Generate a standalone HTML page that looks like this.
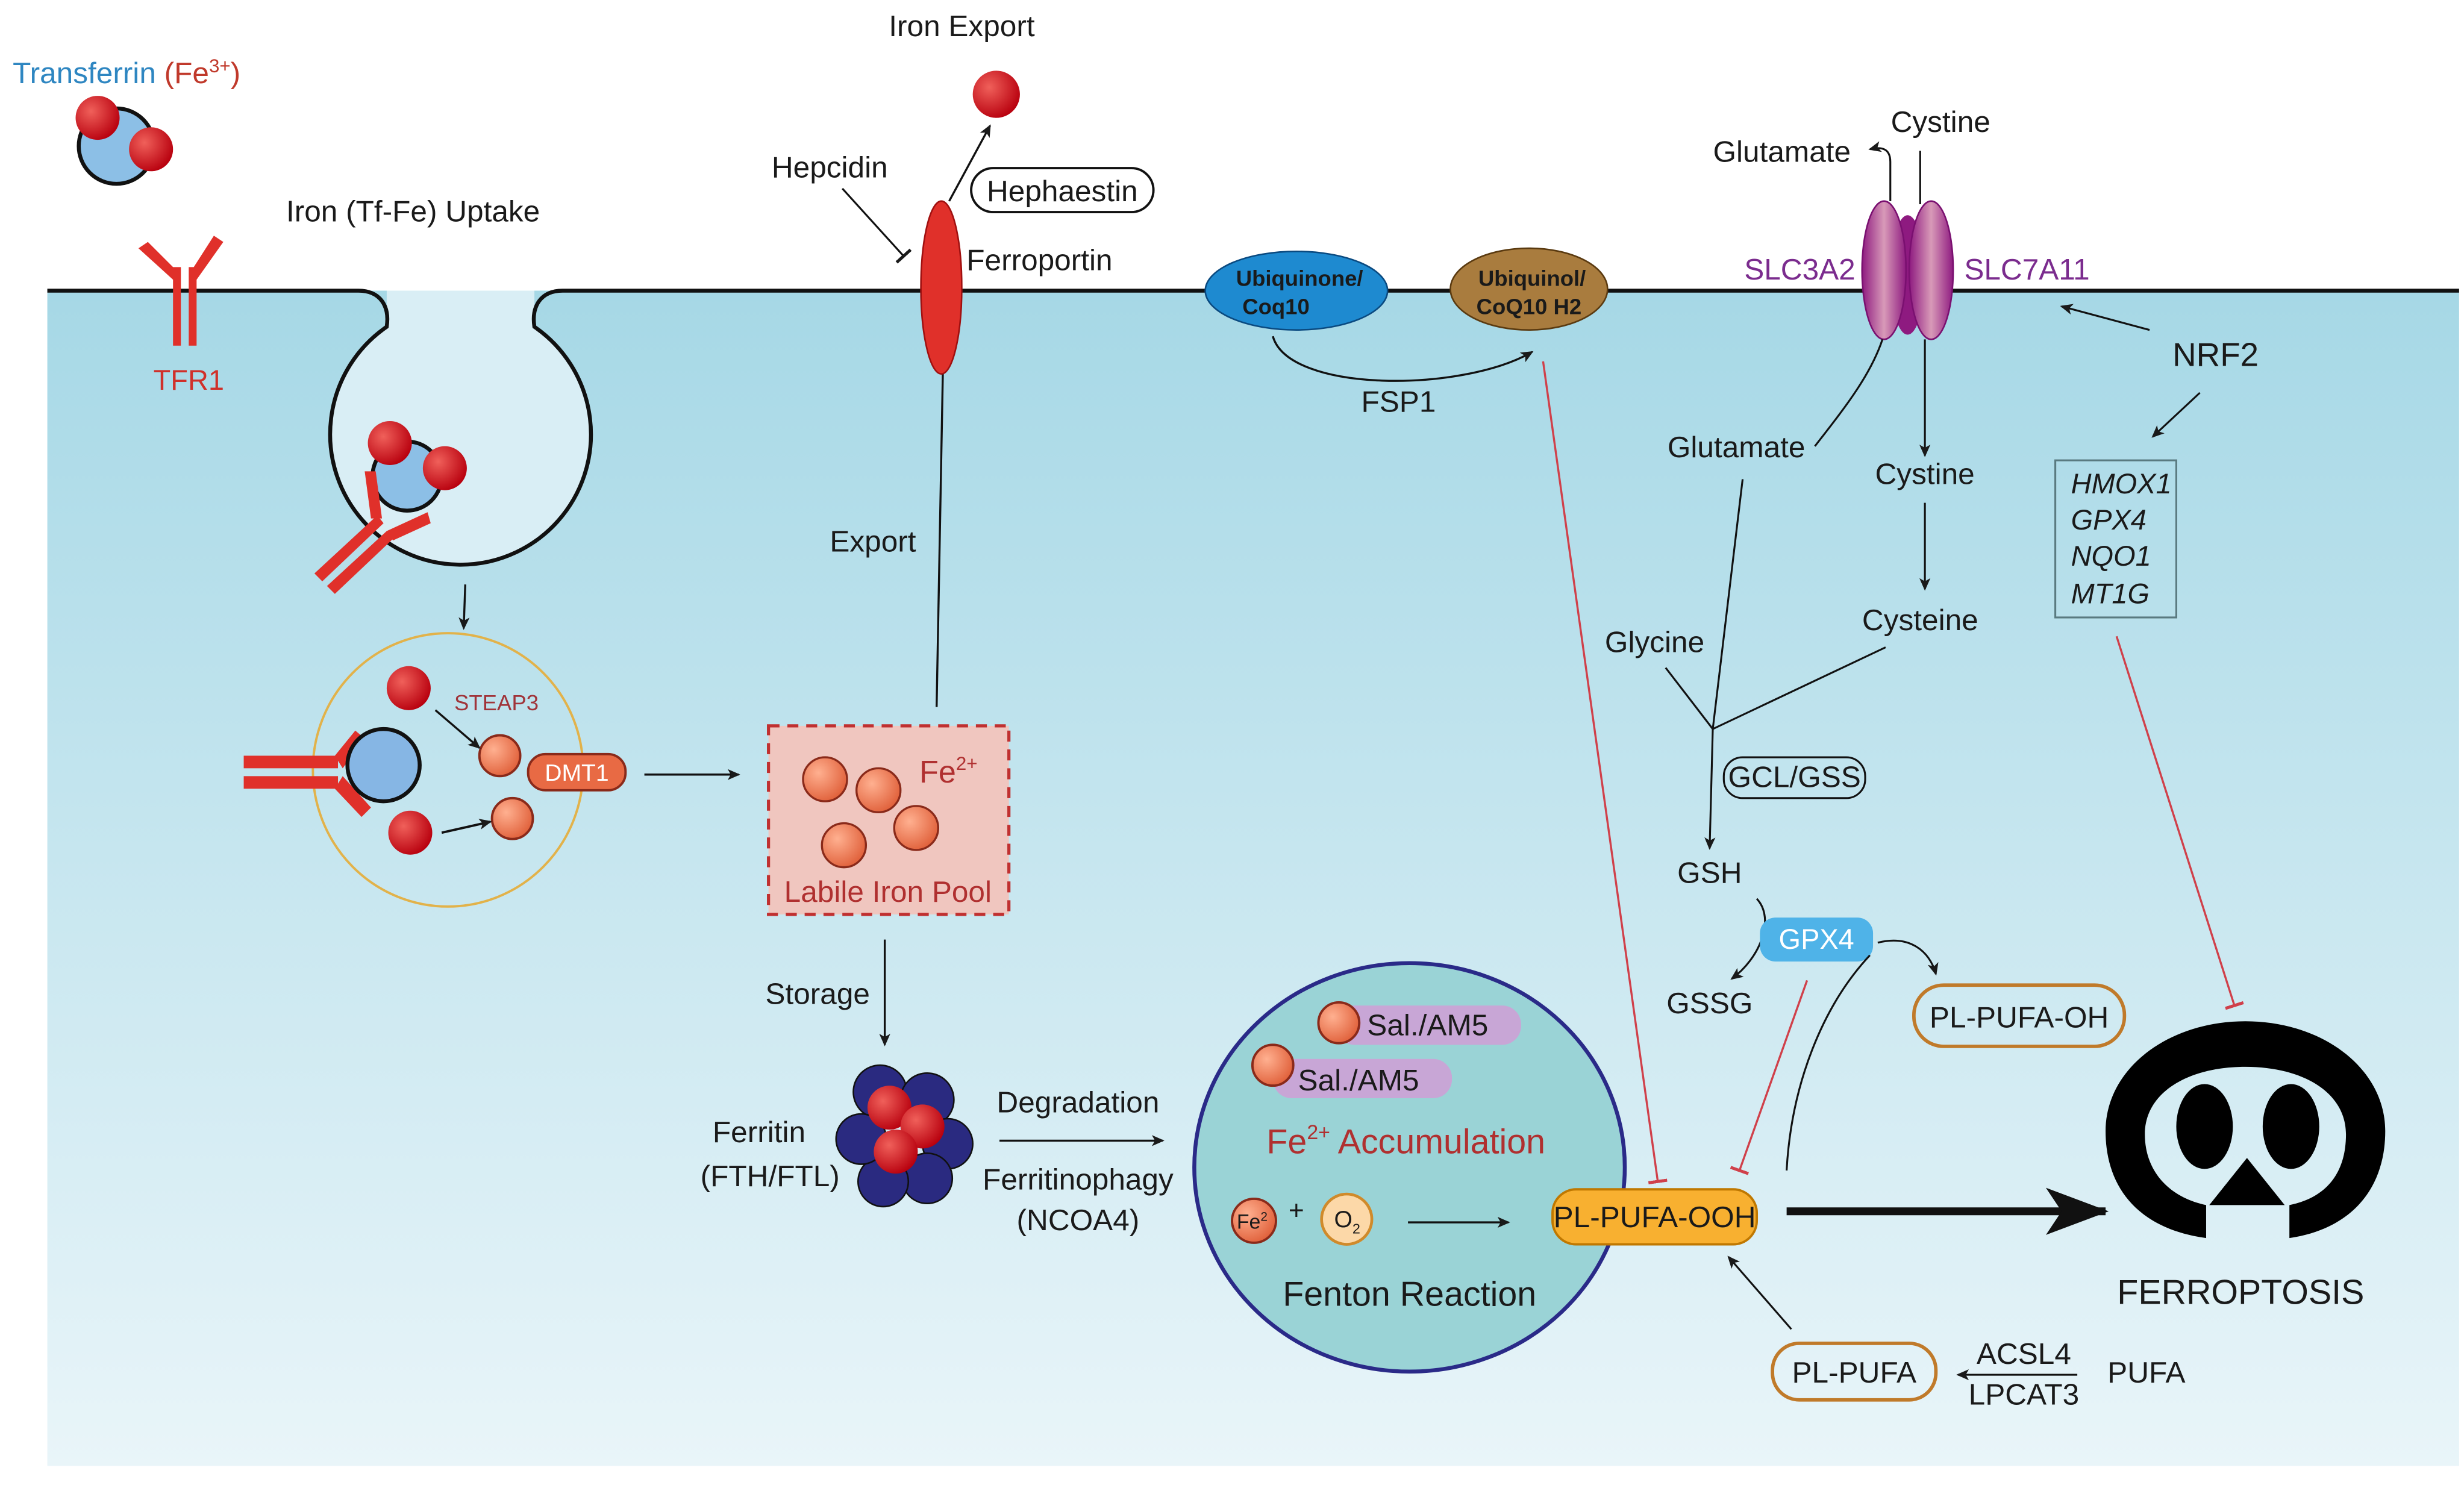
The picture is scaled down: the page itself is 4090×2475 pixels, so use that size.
<!DOCTYPE html>
<html><head><meta charset="utf-8"><style>
html,body{margin:0;padding:0;background:#fff}
svg{display:block}
text{font-family:"Liberation Sans Narrow","Liberation Sans",sans-serif;fill:#1a1a1a}
</style></head><body>
<svg width="4090" height="2475" viewBox="0 0 1568 949" xmlns="http://www.w3.org/2000/svg">
<defs>
<linearGradient id="bg" x1="0" y1="0" x2="0" y2="1">
<stop offset="0" stop-color="#a6d8e6"/><stop offset="1" stop-color="#e9f5f9"/></linearGradient>
<radialGradient id="red" cx="0.35" cy="0.35" r="0.7"><stop offset="0" stop-color="#f0605a"/><stop offset="1" stop-color="#b8000e"/></radialGradient>
<radialGradient id="org" cx="0.35" cy="0.35" r="0.7"><stop offset="0" stop-color="#ffb090"/><stop offset="1" stop-color="#e0603a"/></radialGradient>
<linearGradient id="pur" x1="0" y1="0" x2="1" y2="0"><stop offset="0" stop-color="#8e1a80"/><stop offset="0.5" stop-color="#d89ab8"/><stop offset="1" stop-color="#8e1a80"/></linearGradient>
<marker id="a" markerWidth="8" markerHeight="8" refX="7" refY="4" orient="auto" markerUnits="userSpaceOnUse"><path d="M0,0.5 L8,4 L0,7.5 L2,4z" fill="#1a1a1a"/></marker>
<marker id="ab" markerWidth="40" markerHeight="30" refX="38" refY="15" orient="auto" markerUnits="userSpaceOnUse"><path d="M0,0 L40,15 L0,30 L10,15z" fill="#111"/></marker>
<marker id="ti" markerWidth="2" markerHeight="14" refX="1" refY="7" orient="auto" markerUnits="userSpaceOnUse"><rect x="0" y="1" width="2" height="12" fill="#d0404a"/></marker>
<marker id="tk" markerWidth="2" markerHeight="14" refX="1" refY="7" orient="auto" markerUnits="userSpaceOnUse"><rect x="0" y="1" width="2" height="12" fill="#1a1a1a"/></marker>
</defs>
<!-- cell background -->
<rect x="30" y="185" width="1535" height="748" fill="url(#bg)"/>
<rect x="246" y="185" width="94" height="40" fill="#d9eef5"/>
<circle cx="293" cy="276" r="83" fill="#d9eef5"/>
<path d="M30,185 H228 C242,185 248,195 246,208 A83,83 0 1 0 340,208 C338,195 344,185 358,185 H1565" fill="none" stroke="#111" stroke-width="2.5"/>

<!-- transferrin top-left -->
<text x="8" y="53" font-size="19" style="fill:#2e86c1">Transferrin <tspan style="fill:#c0392b">(Fe<tspan font-size="12" dy="-7">3+</tspan><tspan dy="7">)</tspan></tspan></text>
<circle cx="74" cy="93" r="24" fill="#8cbfe6" stroke="#111" stroke-width="2.5"/>
<circle cx="62" cy="75" r="14" fill="url(#red)"/><circle cx="96" cy="95" r="14" fill="url(#red)"/>
<!-- TFR1 -->
<g fill="#e0302a"><rect x="110" y="170" width="5" height="50"/><rect x="120" y="170" width="5" height="50"/>
<path d="M88,158 L94,154 L115,175 L110,178z"/><path d="M136,150 L142,154 L125,178 L120,175z"/></g>
<text x="120" y="248" font-size="18" text-anchor="middle" style="fill:#d0302a">TFR1</text>
<text x="182" y="141" font-size="19">Iron (Tf-Fe) Uptake</text>
<!-- inside pit -->
<circle cx="259" cy="303" r="22" fill="#8cbfe6" stroke="#111" stroke-width="2.5"/>
<circle cx="248" cy="282" r="14" fill="url(#red)"/><circle cx="283" cy="298" r="14" fill="url(#red)"/>
<g fill="#e0302a"><path d="M200,365 L240,328 L244,333 L205,370z"/><path d="M208,373 L246,338 L250,343 L213,378z"/>
<path d="M236,330 L232,300 L239,300 L243,330z"/><path d="M246,338 L272,326 L274,333 L250,344z"/></g>
<line x1="296" y1="372" x2="295" y2="400" stroke="#111" stroke-width="1.3" marker-end="url(#a)"/>
<!-- endosome -->
<ellipse cx="285" cy="490" rx="86" ry="87" fill="none" stroke="#e2b24a" stroke-width="1.5"/>
<g fill="#e0302a"><rect x="155" y="481" width="60" height="8"/><rect x="155" y="494" width="60" height="8"/>
<path d="M213,481 L226,465 L232,470 L218,489z"/><path d="M213,502 L230,520 L236,514 L218,494z"/></g>
<circle cx="244" cy="487" r="23" fill="#86b6e4" stroke="#111" stroke-width="2.5"/>
<circle cx="260" cy="438" r="14" fill="url(#red)"/><circle cx="261" cy="530" r="14" fill="url(#red)"/>
<circle cx="318" cy="481" r="13" fill="url(#org)" stroke="#8a2a1a" stroke-width="1.5"/>
<circle cx="326" cy="521" r="13" fill="url(#org)" stroke="#8a2a1a" stroke-width="1.5"/>
<line x1="277" y1="452" x2="305" y2="476" stroke="#111" stroke-width="1.3" marker-end="url(#a)"/>
<line x1="281" y1="530" x2="312" y2="523" stroke="#111" stroke-width="1.5" marker-end="url(#a)"/>
<text x="289" y="452" font-size="14" style="fill:#a0343a">STEAP3</text>
<rect x="336" y="480" width="62" height="23" rx="11" fill="#e86a44" stroke="#8a2a1a" stroke-width="1.5"/>
<text x="367" y="497" font-size="15" text-anchor="middle" style="fill:#fff">DMT1</text>
<line x1="410" y1="493" x2="470" y2="493" stroke="#111" stroke-width="1.3" marker-end="url(#a)"/>
<!-- labile iron pool -->
<rect x="489" y="462" width="153" height="120" fill="#f0c6bf" stroke="#c03030" stroke-width="2" stroke-dasharray="7,5"/>
<text x="585" y="498" font-size="20" style="fill:#b03030">Fe<tspan font-size="12" dy="-8">2+</tspan></text>
<circle cx="525" cy="496" r="14" fill="url(#org)" stroke="#8a2a1a" stroke-width="1.3"/>
<circle cx="559" cy="503" r="14" fill="url(#org)" stroke="#8a2a1a" stroke-width="1.3"/>
<circle cx="583" cy="527" r="14" fill="url(#org)" stroke="#8a2a1a" stroke-width="1.3"/>
<circle cx="537" cy="538" r="14" fill="url(#org)" stroke="#8a2a1a" stroke-width="1.3"/>
<text x="565" y="574" font-size="19" text-anchor="middle" style="fill:#b03030">Labile Iron Pool</text>
<!-- ferroportin -->
<line x1="596" y1="450" x2="600" y2="235" stroke="#111" stroke-width="1.3"/>
<text x="528" y="351" font-size="19">Export</text>
<ellipse cx="599" cy="183" rx="13" ry="55" fill="#e0302a" stroke="#a01010" stroke-width="1"/>
<text x="612" y="23" font-size="19" text-anchor="middle">Iron Export</text>
<circle cx="634" cy="60" r="15" fill="url(#red)"/>
<line x1="604" y1="128" x2="630" y2="80" stroke="#111" stroke-width="1.3" marker-end="url(#a)"/>
<text x="491" y="113" font-size="19">Hepcidin</text>
<line x1="536" y1="120" x2="575" y2="163" stroke="#111" stroke-width="1.2" marker-end="url(#tk)"/>
<rect x="618" y="107" width="116" height="28" rx="14" fill="#fff" stroke="#111" stroke-width="1.5"/>
<text x="676" y="128" font-size="19" text-anchor="middle">Hephaestin</text>
<text x="615" y="172" font-size="19">Ferroportin</text>
<!-- storage / ferritin -->
<line x1="563" y1="598" x2="563" y2="665" stroke="#111" stroke-width="1.3" marker-end="url(#a)"/>
<text x="487" y="639" font-size="19">Storage</text>
<g fill="#2a2a80" stroke="#111" stroke-width="1"><circle cx="560" cy="695" r="17"/><circle cx="590" cy="700" r="17"/><circle cx="603" cy="728" r="16"/><circle cx="590" cy="750" r="16"/><circle cx="562" cy="752" r="16"/><circle cx="548" cy="725" r="16"/></g>
<circle cx="566" cy="705" r="14" fill="url(#red)"/><circle cx="587" cy="717" r="14" fill="url(#red)"/><circle cx="570" cy="733" r="14" fill="url(#red)"/>
<text x="483" y="727" font-size="19" text-anchor="middle">Ferritin</text>
<text x="490" y="755" font-size="19" text-anchor="middle">(FTH/FTL)</text>
<text x="686" y="708" font-size="19" text-anchor="middle">Degradation</text>
<line x1="636" y1="726" x2="740" y2="726" stroke="#111" stroke-width="1.3" marker-end="url(#a)"/>
<text x="686" y="757" font-size="19" text-anchor="middle">Ferritinophagy</text>
<text x="686" y="783" font-size="19" text-anchor="middle">(NCOA4)</text>
<!-- fenton circle -->
<ellipse cx="897" cy="743" rx="137" ry="130" fill="#9ad3d6" stroke="#2a2a88" stroke-width="2.5"/>
<rect x="850" y="640" width="118" height="25" rx="12" fill="#c8a6d6"/>
<text x="870" y="659" font-size="19">Sal./AM5</text>
<circle cx="852" cy="651" r="13" fill="url(#org)" stroke="#8a2a1a" stroke-width="1.5"/>
<rect x="810" y="674" width="114" height="25" rx="12" fill="#c8a6d6"/>
<text x="826" y="694" font-size="19">Sal./AM5</text>
<circle cx="810" cy="678" r="13" fill="url(#org)" stroke="#8a2a1a" stroke-width="1.5"/>
<text x="806" y="734" font-size="22" style="fill:#b03030">Fe<tspan font-size="13" dy="-9">2+</tspan><tspan dy="9"> Accumulation</tspan></text>
<circle cx="798" cy="777" r="14" fill="url(#org)" stroke="#8a2a1a" stroke-width="1.5"/>
<text x="787" y="782" font-size="13">Fe<tspan font-size="8" dy="-5">2</tspan></text>
<text x="820" y="776" font-size="17">+</text>
<circle cx="857" cy="776" r="16" fill="#fcd8a8" stroke="#d08a2b" stroke-width="1.8"/>
<text x="849" y="781" font-size="15">O<tspan font-size="9" dy="4">2</tspan></text>
<line x1="896" y1="778" x2="960" y2="778" stroke="#111" stroke-width="1.3" marker-end="url(#a)"/>
<text x="897" y="831" font-size="22" text-anchor="middle">Fenton Reaction</text>
<!-- PL-PUFA-OOH -->
<rect x="988" y="757" width="130" height="35" rx="15" fill="#f8b030" stroke="#c07800" stroke-width="1.5"/>
<text x="1053" y="781" font-size="19" text-anchor="middle">PL-PUFA-OOH</text>
<line x1="1137" y1="771" x2="1340" y2="771" stroke="#111" stroke-width="5" marker-end="url(#ab)"/>
<!-- ferroptosis symbol -->
<path fill="#000" fill-rule="evenodd" d="M1404,788 C1360,782 1340,755 1340,720 C1340,680 1380,650 1429,650 C1478,650 1518,680 1518,720 C1518,755 1498,782 1457,788 L1457,767 C1482,762 1493,745 1493,722 C1493,695 1465,679 1429,679 C1393,679 1365,695 1365,722 C1365,745 1380,762 1404,767 Z"/>
<ellipse cx="1403" cy="717" rx="18" ry="27" fill="#000"/>
<ellipse cx="1458" cy="717" rx="18" ry="27" fill="#000"/>
<path d="M1430,737 L1454,767 L1406,767z" fill="#000"/>
<text x="1426" y="830" font-size="22" text-anchor="middle">FERROPTOSIS</text>
<!-- FSP1 / ubiquinone -->
<ellipse cx="825" cy="185" rx="58" ry="25" fill="#1e8ad0" stroke="#0a4a80" stroke-width="1"/>
<text x="827" y="182" font-size="14" font-weight="bold" text-anchor="middle">Ubiquinone/</text>
<text x="812" y="200" font-size="14" font-weight="bold" text-anchor="middle">Coq10</text>
<ellipse cx="973" cy="184" rx="50" ry="26" fill="#a97c3e" stroke="#5a3a10" stroke-width="1"/>
<text x="975" y="182" font-size="14" font-weight="bold" text-anchor="middle">Ubiquinol/</text>
<text x="973" y="200" font-size="14" font-weight="bold" text-anchor="middle">CoQ10 H2</text>
<path d="M810,214 C820,250 930,250 975,224" fill="none" stroke="#111" stroke-width="1.3" marker-end="url(#a)"/>
<text x="890" y="262" font-size="19" text-anchor="middle">FSP1</text>
<line x1="982" y1="230" x2="1055" y2="752" stroke="#d0404a" stroke-width="1.3" marker-end="url(#ti)"/>
<!-- transporter -->
<text x="1110" y="178" font-size="19" style="fill:#7b2c8e">SLC3A2</text>
<text x="1250" y="178" font-size="19" style="fill:#7b2c8e">SLC7A11</text>
<ellipse cx="1214" cy="175" rx="11" ry="38" fill="#8e1a80"/>
<ellipse cx="1199" cy="172" rx="14" ry="44" fill="url(#pur)" stroke="#7a1070" stroke-width="1"/>
<ellipse cx="1229" cy="172" rx="14" ry="44" fill="url(#pur)" stroke="#7a1070" stroke-width="1"/>
<path d="M1203,128 L1203,103 C1203,95 1198,93 1190,95" fill="none" stroke="#111" stroke-width="1.2" marker-end="url(#a)"/>
<text x="1134" y="103" font-size="19" text-anchor="middle">Glutamate</text>
<text x="1235" y="84" font-size="19" text-anchor="middle">Cystine</text>
<line x1="1222" y1="96" x2="1222" y2="130" stroke="#111" stroke-width="1.2"/>
<path d="M1198,216 C1190,240 1172,262 1155,284" fill="none" stroke="#111" stroke-width="1.2"/>
<text x="1105" y="291" font-size="19" text-anchor="middle">Glutamate</text>
<line x1="1225" y1="216" x2="1225" y2="290" stroke="#111" stroke-width="1.2" marker-end="url(#a)"/>
<text x="1225" y="308" font-size="19" text-anchor="middle">Cystine</text>
<line x1="1225" y1="320" x2="1225" y2="375" stroke="#111" stroke-width="1.2" marker-end="url(#a)"/>
<text x="1222" y="401" font-size="19" text-anchor="middle">Cysteine</text>
<text x="1053" y="415" font-size="19" text-anchor="middle">Glycine</text>
<line x1="1060" y1="425" x2="1090" y2="464" stroke="#111" stroke-width="1.2"/>
<line x1="1200" y1="412" x2="1090" y2="464" stroke="#111" stroke-width="1.2"/>
<line x1="1109" y1="305" x2="1090" y2="464" stroke="#111" stroke-width="1.2"/>
<line x1="1090" y1="464" x2="1088" y2="540" stroke="#111" stroke-width="1.2" marker-end="url(#a)"/>
<rect x="1097" y="482" width="90" height="26" rx="12" fill="none" stroke="#111" stroke-width="1.2"/>
<text x="1142" y="501" font-size="19" text-anchor="middle">GCL/GSS</text>
<text x="1088" y="562" font-size="19" text-anchor="middle">GSH</text>
<path d="M1118,572 C1130,585 1120,610 1102,623" fill="none" stroke="#111" stroke-width="1.2" marker-end="url(#a)"/>
<text x="1088" y="645" font-size="19" text-anchor="middle">GSSG</text>
<rect x="1120" y="584" width="72" height="28" rx="10" fill="#4fb3e8"/>
<text x="1156" y="604" font-size="18" text-anchor="middle" style="fill:#fff">GPX4</text>
<path d="M1195,600 C1215,595 1228,605 1232,620" fill="none" stroke="#111" stroke-width="1.2" marker-end="url(#a)"/>
<rect x="1218" y="627" width="134" height="39" rx="19" fill="none" stroke="#c07a2a" stroke-width="2.2"/>
<text x="1285" y="654" font-size="19" text-anchor="middle">PL-PUFA-OH</text>
<line x1="1150" y1="624" x2="1107" y2="745" stroke="#d0404a" stroke-width="1.3" marker-end="url(#ti)"/>
<path d="M1190,608 C1160,640 1140,690 1137,745" fill="none" stroke="#111" stroke-width="1.2"/>
<!-- PL-PUFA -->
<rect x="1128" y="855" width="104" height="36" rx="17" fill="none" stroke="#c07a2a" stroke-width="2.2"/>
<text x="1180" y="880" font-size="19" text-anchor="middle">PL-PUFA</text>
<line x1="1140" y1="846" x2="1100" y2="800" stroke="#111" stroke-width="1.2" marker-end="url(#a)"/>
<text x="1288" y="868" font-size="19" text-anchor="middle">ACSL4</text>
<line x1="1322" y1="875" x2="1246" y2="875" stroke="#111" stroke-width="1.2" marker-end="url(#a)"/>
<text x="1288" y="894" font-size="19" text-anchor="middle">LPCAT3</text>
<text x="1366" y="880" font-size="19" text-anchor="middle">PUFA</text>
<!-- NRF2 -->
<text x="1410" y="233" font-size="21" text-anchor="middle">NRF2</text>
<line x1="1368" y1="210" x2="1312" y2="195" stroke="#111" stroke-width="1.2" marker-end="url(#a)"/>
<line x1="1400" y1="250" x2="1370" y2="278" stroke="#111" stroke-width="1.2" marker-end="url(#a)"/>
<rect x="1308" y="293" width="77" height="100" fill="none" stroke="#5a7a80" stroke-width="1.2"/>
<g font-size="18" font-style="italic"><text x="1318" y="314" style="font-family:'Liberation Sans',sans-serif">HMOX1</text>
<text x="1318" y="337" style="font-family:'Liberation Sans',sans-serif">GPX4</text>
<text x="1318" y="360" style="font-family:'Liberation Sans',sans-serif">NQO1</text>
<text x="1318" y="384" style="font-family:'Liberation Sans',sans-serif">MT1G</text></g>
<line x1="1347" y1="405" x2="1422" y2="640" stroke="#d0404a" stroke-width="1.3" marker-end="url(#ti)"/>
</svg>
</body></html>
